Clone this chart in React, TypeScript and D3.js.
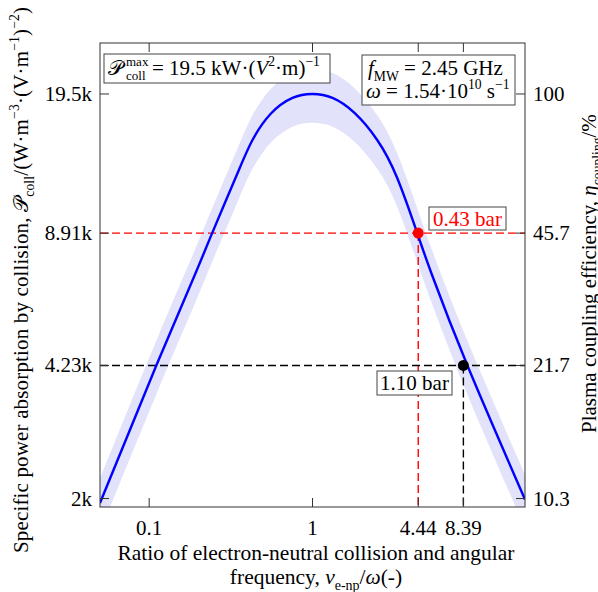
import React from "react";
import * as d3 from "d3";

// ---- data ----
const xTicks = [0.1, 1, 4.44, 8.39];
const xTickLabels = ["0.1", "1", "4.44", "8.39"];
const yTicks = [2000, 4230, 8910, 19500];
const yTickLabels = ["2k", "4.23k", "8.91k", "19.5k"];
const yRightLabels = ["10.3", "21.7", "45.7", "100"];

const curveX = [0.05, 0.1109, 0.1902, 0.243, 0.3458, 0.4292, 0.5532, 0.7542, 1.0, 1.326, 1.808, 2.49, 3.301, 4.377, 5.393, 8.857, 20];
const curveP = [1950, 4240, 7040, 8910, 12430, 15050, 17420, 19070, 19500, 19070, 17520, 15050, 12150, 8910, 7040, 4240, 1990];
const bandHigh = [2243, 4876, 8096, 10247, 14295, 17308, 20033, 21931, 22425, 21931, 20148, 17308, 13973, 10247, 8096, 4876, 2289];
const bandLow = [1658, 3604, 5984, 7574, 10566, 12793, 14807, 16210, 16575, 16210, 14892, 12793, 10328, 7574, 5984, 3604, 1692];

const markX = [4.44, 8.39];
const markP = [8910, 4230];
const markLabels = ["0.43 bar", "1.10 bar"];
const markColors = ["#ff0000", "#000000"];

const X_DOMAIN = [0.05, 20];
const Y_DOMAIN = [1907, 25980];

const TS = { fontFamily: '"Liberation Serif"' };

type Seg = { t: string; sub?: boolean; sup?: boolean; it?: boolean };
function rich(segs: Seg[], base: number) {
  let cur = 0;
  return segs.map((s, i) => {
    const target = s.sub ? base * 0.28 : s.sup ? -base * 0.42 : 0;
    const dy = target - cur;
    cur = target;
    return (
      <tspan
        key={i}
        dy={dy !== 0 ? dy : undefined}
        fontSize={s.sub || s.sup ? base * 0.65 : undefined}
        fontStyle={s.it ? "italic" : undefined}
      >
        {s.t}
      </tspan>
    );
  });
}

export default function App() {
  const W = 598, H = 592;
  const L = 100, R = 525, T = 43, B = 507;
  const x = d3.scaleLog().domain(X_DOMAIN).range([L, R]);
  const y = d3.scaleLog().domain(Y_DOMAIN).range([B, T]);
  const FS = 21;

  const pts = curveX.map((v, i) => ({ x: v, p: curveP[i], hi: bandHigh[i], lo: bandLow[i] }));
  const line = d3
    .line<any>()
    .x((d) => x(d.x))
    .y((d) => y(d.p))
    .curve(d3.curveNatural);
  const area = d3
    .area<any>()
    .x((d) => x(d.x))
    .y0((d) => y(d.lo))
    .y1((d) => y(d.hi))
    .curve(d3.curveNatural);

  const tick = 9;
  const frame = "#333";
  const txt = "#000";

  return (
    <svg width={W} height={H} style={{ position: "absolute", left: 0, top: 0 }}>
      <rect width={W} height={H} fill="#fff" />
      <defs>
        <clipPath id="plot">
          <rect x={L} y={T} width={R - L} height={B - T} />
        </clipPath>
      </defs>
      <g clipPath="url(#plot)">
        <path d={area(pts) || ""} fill="#e2e2fb" />
        {markX.map((mx, i) => (
          <g key={i} stroke={markColors[i]} strokeWidth={1.4} strokeDasharray="8,4" fill="none">
            <line x1={L} x2={R} y1={y(markP[i])} y2={y(markP[i])} />
            <line x1={x(mx)} x2={x(mx)} y1={y(markP[i])} y2={B} />
          </g>
        ))}
        <path d={line(pts) || ""} fill="none" stroke="#0000ff" strokeWidth={2.4} />
        {markX.map((mx, i) => (
          <circle key={i} cx={x(mx)} cy={y(markP[i])} r={5.5} fill={markColors[i]} />
        ))}
      </g>

      {/* frame */}
      <rect x={L} y={T} width={R - L} height={B - T} fill="none" stroke={frame} strokeWidth={1} />
      {xTicks.map((t, i) => (
        <g key={i} stroke={frame} strokeWidth={1}>
          <line x1={x(t)} x2={x(t)} y1={B} y2={B - tick} />
          <line x1={x(t)} x2={x(t)} y1={T} y2={T + tick} />
        </g>
      ))}
      {yTicks.map((t, i) => (
        <g key={i} stroke={frame} strokeWidth={1}>
          <line x1={L} x2={L + tick} y1={y(t)} y2={y(t)} />
          <line x1={R} x2={R - tick} y1={y(t)} y2={y(t)} />
        </g>
      ))}
      {xTicks.map((t, i) => (
        <text key={i} x={x(t)} y={535} fontSize={FS} textAnchor="middle" fill={txt} style={TS}>
          {xTickLabels[i]}
        </text>
      ))}
      {yTicks.map((t, i) => (
        <text key={i} x={92} y={y(t) + 7} fontSize={FS} textAnchor="end" fill={txt} style={TS}>
          {yTickLabels[i]}
        </text>
      ))}
      {yTicks.map((t, i) => (
        <text key={i} x={533} y={y(t) + 7} fontSize={FS} textAnchor="start" fill={txt} style={TS}>
          {yRightLabels[i]}
        </text>
      ))}

      {/* mark labels */}
      <rect x={429} y={207} width={77} height={23} fill="#fff" stroke="#444" strokeWidth={1} />
      <text x={467.5} y={226} fontSize={FS} textAnchor="middle" fill={markColors[0]} style={TS}>
        {markLabels[0]}
      </text>
      <rect x={377} y={371} width={75} height={24} fill="#fff" stroke="#444" strokeWidth={1} />
      <text x={414.5} y={390} fontSize={FS} textAnchor="middle" fill={markColors[1]} style={TS}>
        {markLabels[1]}
      </text>

      {/* top-left info box */}
      <rect x={104} y={54} width={226} height={29} fill="#fff" stroke="#444" strokeWidth={1} />
      <text x={108} y={75} fontSize={FS} fill={txt} style={TS}>𝒫</text>
      <text x={126} y={66} fontSize={13} fill={txt} style={TS}>max</text>
      <text x={126} y={80} fontSize={13} fill={txt} style={TS}>coll</text>
      <text x={152} y={75} fontSize={FS} fill={txt} style={TS}>
        {rich(
          [
            { t: "= 19.5 kW·(" },
            { t: "V", it: true },
            { t: "2", sup: true },
            { t: "·m)" },
            { t: "−1", sup: true },
          ],
          FS
        )}
      </text>

      {/* top-right info box */}
      <rect x={362} y={55} width={153} height={50} fill="#fff" stroke="#444" strokeWidth={1} />
      <text x={368} y={75} fontSize={FS} fill={txt} style={TS}>
        {rich([{ t: "f", it: true }, { t: "MW", sub: true }, { t: " = 2.45 GHz" }], FS)}
      </text>
      <text x={366} y={98} fontSize={FS} fill={txt} style={TS}>
        {rich(
          [
            { t: "ω", it: true },
            { t: " = 1.54·10" },
            { t: "10", sup: true },
            { t: " s" },
            { t: "−1", sup: true },
          ],
          FS
        )}
      </text>

      {/* axis titles */}
      <text x={316} y={560} fontSize={21.5} textAnchor="middle" fill={txt} style={TS}>
        Ratio of electron-neutral collision and angular
      </text>
      <text x={316} y={584} fontSize={21.5} textAnchor="middle" fill={txt} style={TS}>
        {rich(
          [
            { t: "frequency, " },
            { t: "ν", it: true },
            { t: "e-np", sub: true },
            { t: "/" },
            { t: "ω", it: true },
            { t: "(-)" },
          ],
          21.5
        )}
      </text>
      <text
        transform="translate(28,553) rotate(-90)"
        fontSize={21}
        textAnchor="start"
        textLength={546}
        lengthAdjust="spacing"
        fill={txt}
        style={TS}
      >
        {rich(
          [
            { t: "Specific power absorption by collision, " },
            { t: "𝒫" },
            { t: "coll", sub: true },
            { t: "/(W·m" },
            { t: "−3", sup: true },
            { t: "·(V·m" },
            { t: "−1", sup: true },
            { t: ")" },
            { t: "−2", sup: true },
            { t: ")" },
          ],
          21
        )}
      </text>
      <text transform="translate(596,433) rotate(-90)" fontSize={21} textAnchor="start" fill={txt} style={TS}>
        {rich(
          [
            { t: "Plasma coupling efficiency, " },
            { t: "η", it: true },
            { t: "coupling", sub: true },
            { t: "/%" },
          ],
          21
        )}
      </text>
    </svg>
  );
}
